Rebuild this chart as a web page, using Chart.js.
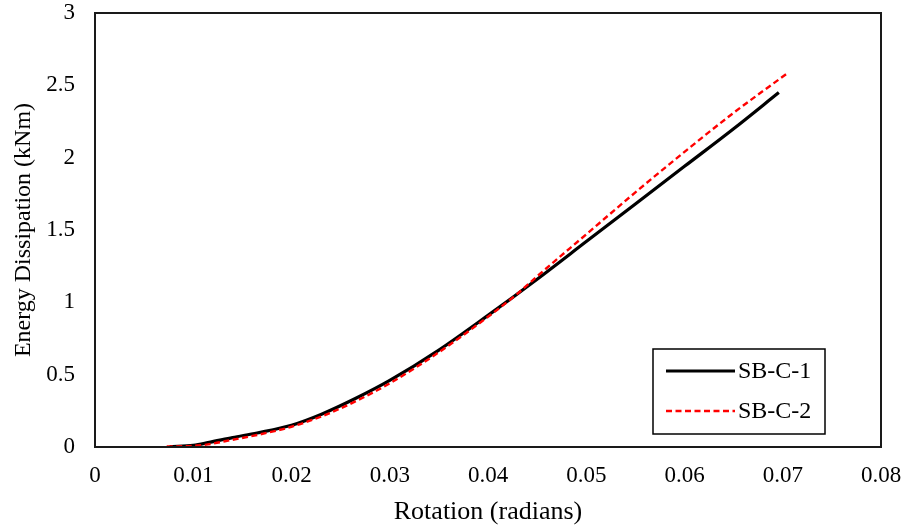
<!DOCTYPE html>
<html>
<head>
<meta charset="utf-8">
<script src="https://cdn.jsdelivr.net/npm/chart.js@4.4.1/dist/chart.umd.min.js"></script>
<style>
  html, body { margin: 0; padding: 0; background: #fff; }
  #wrap { width: 908px; height: 528px; }
</style>
</head>
<body>
<div id="wrap"><canvas id="chart" width="908" height="528"></canvas></div>
<script>
// series
const seriesLabels = ['SB-C-1', 'SB-C-2'];

const sb1Rotation = [0.0076, 0.0100, 0.0115, 0.0140, 0.0165, 0.0200, 0.0230, 0.0265, 0.0300, 0.0350, 0.0400, 0.0450, 0.0500, 0.0550, 0.0600, 0.0650, 0.0696];
const sb1Energy   = [0.003, 0.012, 0.030, 0.065, 0.097, 0.150, 0.225, 0.335, 0.460, 0.670, 0.910, 1.160, 1.420, 1.680, 1.940, 2.200, 2.450];

const sb2Rotation = [0.0073, 0.0100, 0.0115, 0.0140, 0.0165, 0.0200, 0.0230, 0.0265, 0.0300, 0.0350, 0.0400, 0.0430, 0.0450, 0.0500, 0.0550, 0.0600, 0.0650, 0.0705];
const sb2Energy   = [0.003, 0.008, 0.018, 0.050, 0.083, 0.140, 0.210, 0.315, 0.440, 0.655, 0.900, 1.060, 1.180, 1.470, 1.760, 2.040, 2.310, 2.585];

const xTickLabels = ['0', '0.01', '0.02', '0.03', '0.04', '0.05', '0.06', '0.07', '0.08'];
const yTickLabels = ['0', '0.5', '1', '1.5', '2', '2.5', '3'];

const FONT = "'Liberation Serif', 'Times New Roman', serif";

const toPoints = (xs, ys) => xs.map((x, i) => ({ x: x, y: ys[i] }));

// box round the plot area
const framePlugin = {
    id: 'frame',
    afterDraw(chart) {
        const { ctx, chartArea: a } = chart;
        ctx.save();
        ctx.strokeStyle = '#1a1a1a';
        ctx.lineWidth = 2;
        ctx.strokeRect(a.left, a.top, a.right - a.left, a.bottom - a.top);
        ctx.restore();
    }
};

// legend box in the lower right, like the original
const boxLegend = {
    id: 'boxLegend',
    afterDraw(chart) {
        const ctx = chart.ctx;
        const x0 = 653, y0 = 349, w = 172, h = 85;
        ctx.save();
        ctx.fillStyle = '#fff';
        ctx.fillRect(x0, y0, w, h);
        ctx.strokeStyle = '#000';
        ctx.lineWidth = 1.5;
        ctx.strokeRect(x0, y0, w, h);
        ctx.font = '24px ' + FONT;
        ctx.textBaseline = 'middle';
        ctx.textAlign = 'left';
        chart.data.datasets.forEach((ds, i) => {
            const y = y0 + 22 + i * 40;
            ctx.beginPath();
            ctx.strokeStyle = ds.borderColor;
            ctx.lineWidth = ds.borderWidth;
            ctx.setLineDash(ds.borderDash || []);
            ctx.moveTo(x0 + 13, y);
            ctx.lineTo(x0 + 82, y);
            ctx.stroke();
            ctx.setLineDash([]);
            ctx.fillStyle = '#000';
            ctx.fillText(ds.label, x0 + 85, y + 1);
        });
        ctx.restore();
    }
};

new Chart(document.getElementById('chart'), {
    type: 'scatter',
    data: {
        datasets: [
            {
                label: seriesLabels[0],
                data: toPoints(sb1Rotation, sb1Energy),
                showLine: true,
                borderColor: '#000000',
                borderWidth: 3.2,
                pointRadius: 0,
                cubicInterpolationMode: 'monotone',
                order: 1
            },
            {
                label: seriesLabels[1],
                data: toPoints(sb2Rotation, sb2Energy),
                showLine: true,
                borderColor: '#ff0000',
                borderWidth: 2.4,
                borderDash: [6, 3.5],
                pointRadius: 0,
                cubicInterpolationMode: 'monotone',
                order: 0
            }
        ]
    },
    options: {
        responsive: false,
        animation: false,
        layout: { padding: { left: 0, right: 27, top: 13, bottom: 0 } },
        plugins: {
            legend: { display: false },
            tooltip: { enabled: false }
        },
        scales: {
            x: {
                type: 'linear',
                min: 0,
                max: 0.08,
                grid: { display: false, drawTicks: false },
                border: { display: false },
                afterFit: (scale) => {
                    scale.height = 81;
                    scale.paddingLeft = 0;
                    scale.paddingRight = 0;
                },
                ticks: {
                    stepSize: 0.01,
                    padding: 15,
                    color: '#000',
                    font: { family: FONT, size: 23 },
                    maxRotation: 0,
                    callback: (v, i) => xTickLabels[i]
                },
                title: {
                    display: true,
                    text: 'Rotation (radians)',
                    color: '#000',
                    font: { family: FONT, size: 26 },
                    padding: { top: 0, bottom: 0 }
                }
            },
            y: {
                min: 0,
                max: 3,
                grid: { display: false, drawTicks: false },
                border: { display: false },
                afterFit: (scale) => {
                    scale.width = 95;
                    scale.paddingTop = 0;
                    scale.paddingBottom = 0;
                },
                ticks: {
                    stepSize: 0.5,
                    padding: 20,
                    color: '#000',
                    font: { family: FONT, size: 23 },
                    callback: (v, i) => yTickLabels[i]
                },
                title: {
                    display: true,
                    text: 'Energy Dissipation (kNm)',
                    color: '#000',
                    font: { family: FONT, size: 24 },
                    padding: { top: 9, bottom: 0 }
                }
            }
        }
    },
    plugins: [framePlugin, boxLegend]
});
</script>
</body>
</html>
